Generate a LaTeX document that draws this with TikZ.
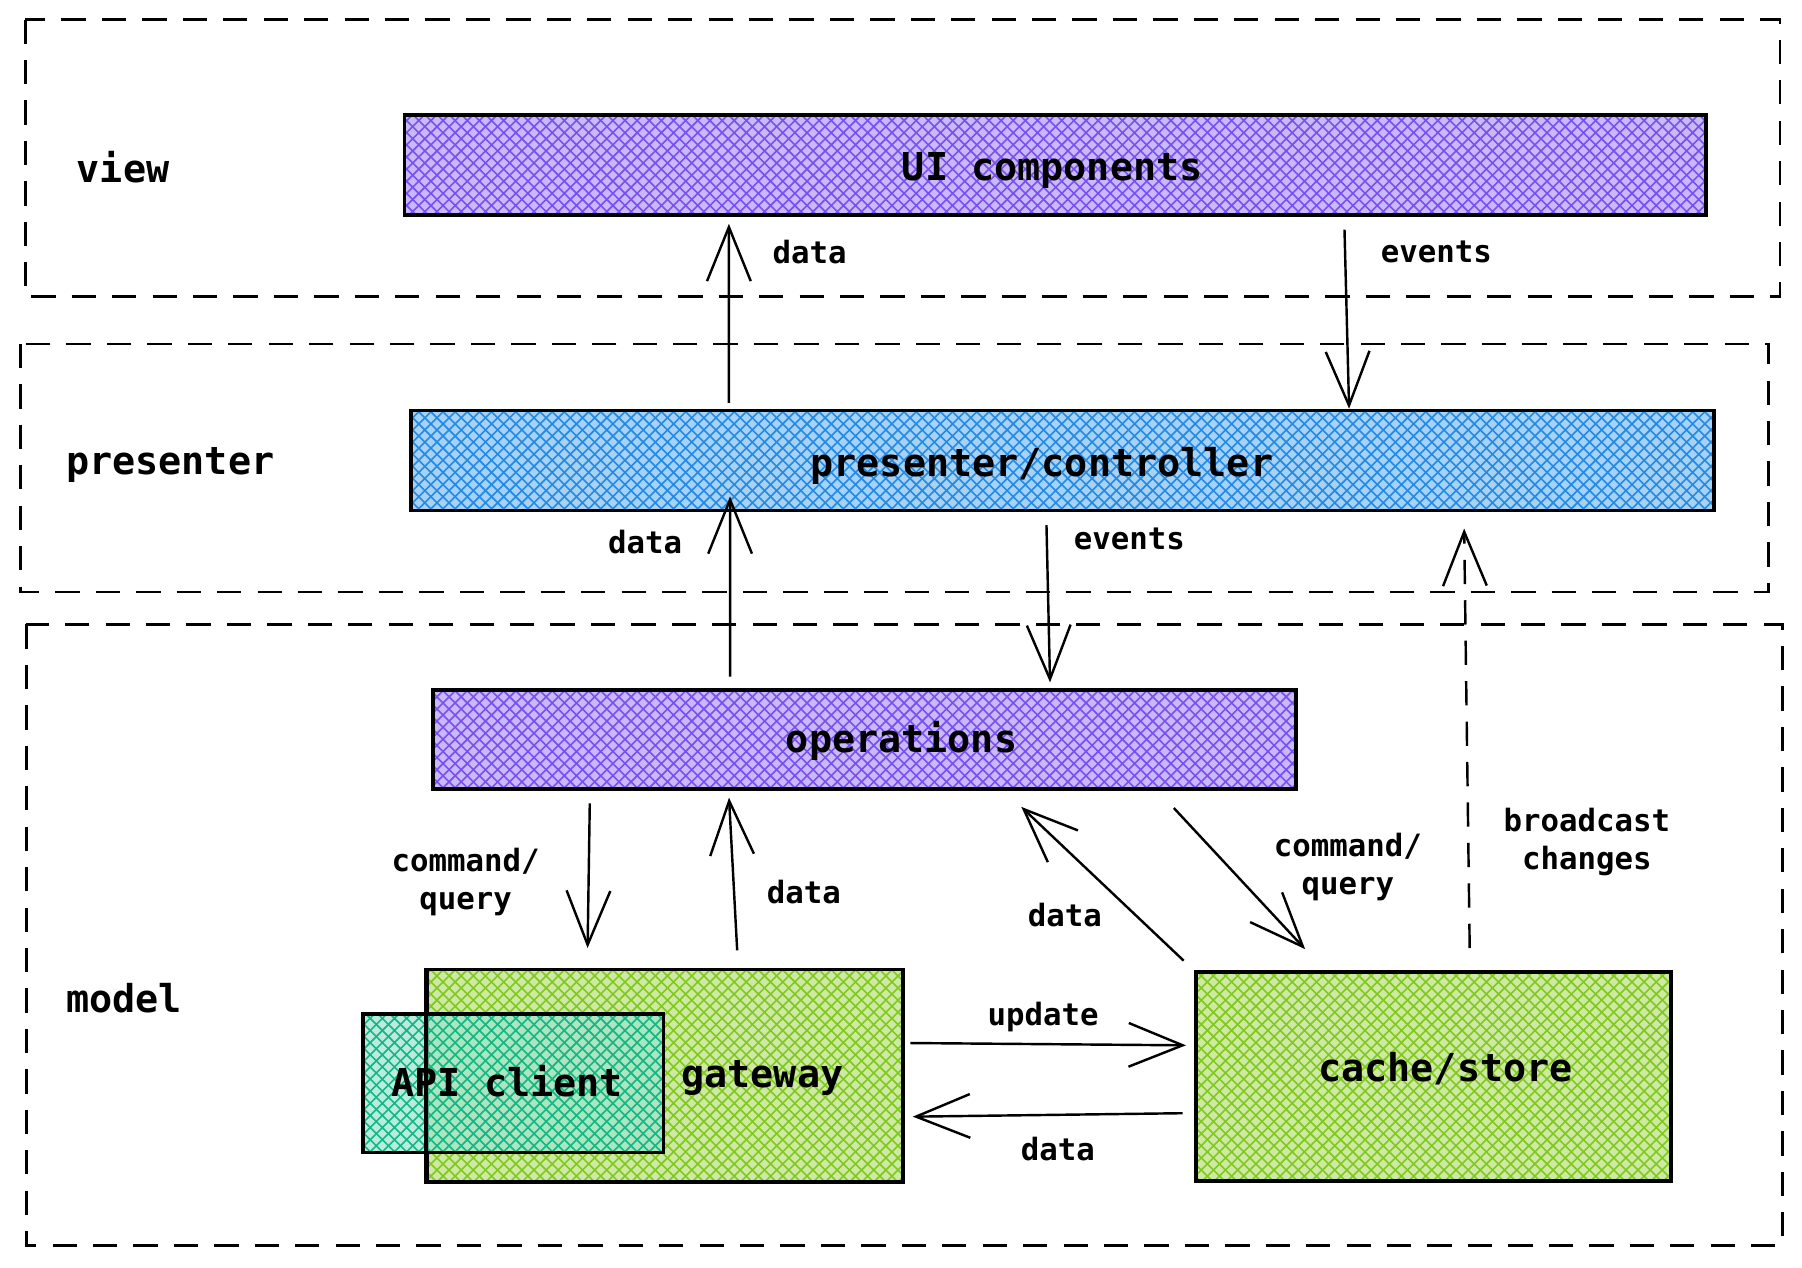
\documentclass[tikz,border=0pt]{standalone}
\usepackage{fontspec}
\setmainfont{DejaVu Sans Mono}
\usepackage{tikz}
\usetikzlibrary{calc,arrows.meta,patterns}

\definecolor{violetc}{HTML}{7950F2}
\definecolor{bluec}{HTML}{228BE6}
\definecolor{greenc}{HTML}{82C91E}
\definecolor{tealc}{HTML}{12B886}

\tikzset{
  layer/.style={dash pattern=on 6pt off 4pt, line width=0.6pt},
  hatch/.style={line width=0.9pt, inner sep=0pt, fill=#1!40, postaction={pattern=crosshatch, pattern color=#1}, postaction={draw}},
  big/.style={font=\bfseries\fontsize{9.5}{11}\selectfont},
  small/.style={font=\bfseries\fontsize{7.6}{9.5}\selectfont, align=center},
  arr/.style={line width=0.6pt, -{Straight Barb[length=0.47cm, width=0.38cm]}},
}

\begin{document}
\begin{tikzpicture}[x=0.01cm, y=-0.01cm]
    \useasboundingbox (0,0) rectangle (1567,1102);
    \foreach \xa/\ya/\xb/\yb in {22/17/1548/258, 18/299/1538/515, 23/543/1550/1083}
        \draw[layer] (\xa,\ya) rectangle (\xb,\yb);

    \node[big] (lview) at (107,145) {view};
    \node[big] (lpres) at (148,404) {presenter};
    \node[big] (lmodel) at (108,868) {model};

    \node[hatch=violetc, minimum width=11.31cm, minimum height=0.87cm] (ui) at (917.5,143.5) {};
    \node[hatch=bluec, minimum width=11.32cm, minimum height=0.87cm] (pc) at (924,400.5) {};
    \node[hatch=violetc, minimum width=7.50cm, minimum height=0.86cm] (ops) at (752,643) {};
    \node[hatch=greenc, minimum width=4.13cm, minimum height=1.85cm] (gw) at (578.5,935.5) {};
    \node[hatch=tealc, fill opacity=0.7, minimum width=2.61cm, minimum height=1.20cm] (api) at (446.5,942) {};
    \node[hatch=greenc, minimum width=4.13cm, minimum height=1.82cm] (cache) at (1246.5,936) {};
    \draw[line width=0.9pt] (gw.north west) -- (gw.south west);

    \node[big] (tui) at (915,148) {UI components};
    \node[big] (tpc) at (906,405) {presenter/controller};
    \node[big] (tops) at (784,644) {operations};
    \node[big] (tapi) at (441,940) {API client};
    \node[big] (tgw) at (663,937) {gateway};
    \node[big] (tcache) at (1257,929) {cache/store};

    \draw[arr] ([xshift=-2.90cm,yshift=0.05cm]pc.north) -- ([xshift=-2.835cm,yshift=-0.06cm]ui.south);
    \draw[arr] ([xshift=2.515cm,yshift=-0.11cm]ui.south) -- ([xshift=2.49cm]pc.north);
    \draw[arr] ([xshift=-1.17cm,yshift=0.10cm]ops.north) -- ([xshift=-2.89cm,yshift=0.14cm]pc.south);
    \draw[arr] ([xshift=-0.14cm,yshift=-0.11cm]pc.south) -- ([xshift=1.61cm,yshift=0.05cm]ops.north);
    \draw[arr] ([xshift=-2.39cm,yshift=-0.11cm]ops.south) -- ([xshift=-0.675cm,yshift=0.17cm]gw.north);
    \draw[arr] ([xshift=0.625cm,yshift=0.15cm]gw.north) -- ([xshift=-1.18cm,yshift=-0.06cm]ops.south);
    \draw[arr] ([xshift=-0.09cm,yshift=0.08cm]cache.north west) -- ([xshift=1.36cm,yshift=-0.14cm]ops.south);
    \draw[arr] ([xshift=-1.08cm,yshift=-0.15cm]ops.south east) -- ([xshift=-1.115cm,yshift=0.18cm]cache.north);
    \draw[arr, layer] ([xshift=0.315cm,yshift=0.19cm]cache.north) -- ([xshift=3.49cm,yshift=-0.14cm]pc.south);
    \draw[arr] ([xshift=0.05cm,yshift=0.285cm]gw.east) -- ([xshift=-0.07cm,yshift=0.27cm]cache.west);
    \draw[arr] ([xshift=-0.10cm,yshift=-0.32cm]cache.west) -- ([xshift=0.07cm,yshift=-0.355cm]gw.east);

    \node[small] (d1) at (704,219) {data};
    \node[small] (e1) at (1249,219) {events};
    \node[small] (d2) at (561,471) {data};
    \node[small] (e2) at (982,469) {events};
    \node[small] (cq1) at (405,767) {command/\\query};
    \node[small] (d3) at (699,776) {data};
    \node[small] (d4) at (926,796) {data};
    \node[small] (cq2) at (1172,754) {command/\\query};
    \node[small] (bc) at (1380,732) {broadcast\\changes};
    \node[small] (up) at (907,884) {update};
    \node[small] (d5) at (920,999) {data};
\end{tikzpicture}
\end{document}
